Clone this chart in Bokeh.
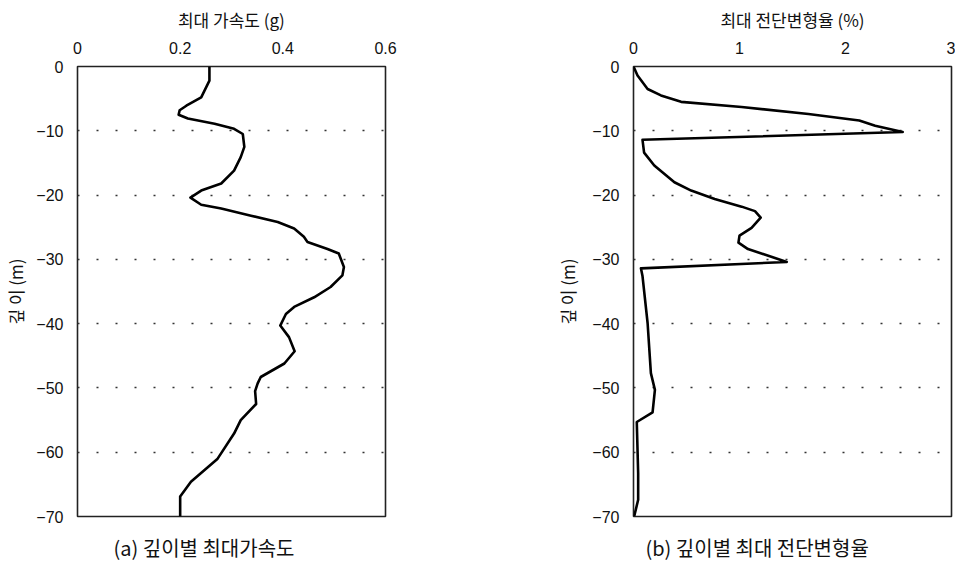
from bokeh.plotting import figure
from bokeh.layouts import row
from bokeh.models import Range1d, FixedTicker, CustomJSTickFormatter, Title
from bokeh.embed import file_html
from bokeh.resources import INLINE

# ---- data ----
acc_depth = [0, -2.2, -4.8, -6.1, -6.8, -7.5, -8.1, -8.9, -9.7, -10.5, -12.5, -14.1, -16.2,
             -18.2, -19.3, -20.4, -21.5, -22.1, -23.2, -24.2, -25.2, -26.5, -27.3, -28.4,
             -29.1, -31.2, -32.5, -34.3, -35.9, -37.4, -38.5, -40.3, -42.1, -44.3, -46.2,
             -48.3, -49.3, -50.5, -52.5, -55.0, -57.1, -61.0, -64.6, -66.9, -70]
acc_val = [0.257, 0.257, 0.241, 0.212, 0.199, 0.197, 0.215, 0.267, 0.305, 0.322, 0.325, 0.318,
           0.305, 0.280, 0.241, 0.220, 0.241, 0.280, 0.338, 0.390, 0.422, 0.441, 0.448, 0.487,
           0.509, 0.519, 0.516, 0.493, 0.461, 0.422, 0.406, 0.395, 0.412, 0.423, 0.403, 0.357,
           0.351, 0.346, 0.348, 0.318, 0.305, 0.273, 0.221, 0.200, 0.200]

strain_depth = [0, -1.4, -3.5, -4.5, -5.5, -6.3, -7.4, -8.4, -9.2, -10.2, -11.4, -13.4, -15.4,
                -18.0, -19.3, -20.6, -21.8, -22.5, -23.5, -25.1, -26.3, -27.4, -28.4, -29.6,
                -30.4, -31.4, -32.6, -39.9, -47.7, -50.3, -53.8, -55.3, -63.3, -67.4, -70]
strain_val = [0, 0.038, 0.133, 0.259, 0.449, 1.02, 1.65, 2.13, 2.28, 2.54, 0.085, 0.10, 0.196,
              0.386, 0.544, 0.766, 1.02, 1.146, 1.20, 1.114, 1.00, 0.99, 1.08, 1.30,
              1.446, 0.07, 0.085, 0.133, 0.164, 0.202, 0.18, 0.031, 0.044, 0.044, 0.006]

y_ticks = [0, -10, -20, -30, -40, -50, -60, -70]
grid_ticks = [-10, -20, -30, -40, -50, -60]
acc_ticks = [0, 0.2, 0.4, 0.6]
strain_ticks = [0, 1, 2, 3]

acc_xlabel = "최대 가속도 (g)"
strain_xlabel = "최대 전단변형율 (%)"
ylabel = "깊 이 (m)"
cap_a = "(a) 깊이별 최대가속도"
cap_b = "(b) 깊이별 최대 전단변형율"

KFONT = "Noto Sans CJK KR"
NFONT = "Liberation Sans"

fmt_code = "return tick < 0 ? '\\u2212' + Math.abs(tick) : String(tick);"


def make(xs, ys, xmax, xticks, xlabel, caption, cap_offset,
         width, bl, br, ylab_standoff):
    p = figure(width=width, height=576, x_range=Range1d(0, xmax), y_range=Range1d(-70, 0),
               x_axis_location="above", output_backend="svg", toolbar_location=None,
               min_border_left=bl, min_border_right=br, min_border_top=66,
               min_border_bottom=60)
    p.outline_line_color = "#222222"
    p.outline_line_width = 1.6
    p.outline_line_alpha = 1.0

    p.xaxis.ticker = FixedTicker(ticks=xticks)
    p.yaxis.ticker = FixedTicker(ticks=y_ticks)
    for ax in (p.xaxis[0], p.yaxis[0]):
        ax.formatter = CustomJSTickFormatter(code=fmt_code)
        ax.axis_line_color = None
        ax.major_tick_line_color = None
        ax.minor_tick_line_color = None
        ax.major_tick_in = 0
        ax.major_tick_out = 0
        ax.minor_tick_in = 0
        ax.minor_tick_out = 0
        ax.major_label_text_font = NFONT
        ax.major_label_text_font_size = "16px"
        ax.major_label_text_color = "#111111"
        ax.axis_label_text_font = KFONT
        ax.axis_label_text_font_style = "normal"
        ax.axis_label_text_font_size = "17px"
        ax.axis_label_text_color = "#111111"
    p.xaxis.axis_label = xlabel
    p.yaxis.axis_label = ylabel
    p.xaxis.major_label_standoff = 13
    p.yaxis.major_label_standoff = 14
    p.xaxis.axis_label_standoff = 7
    p.yaxis.axis_label_standoff = ylab_standoff

    p.xgrid.visible = False
    p.ygrid.ticker = FixedTicker(ticks=grid_ticks)
    p.ygrid.grid_line_color = "#333333"
    p.ygrid.grid_line_dash = "2 17"
    p.ygrid.grid_line_width = 1.3

    p.line(xs, ys, line_color="black", line_width=2.6, line_join="round")

    p.add_layout(Title(text=caption, align="left", offset=cap_offset, standoff=29,
                       text_font=KFONT, text_font_style="normal", text_font_size="20px",
                       text_color="#111111"), "below")
    return p


p1 = make(acc_val, acc_depth, 0.6, acc_ticks, acc_xlabel, cap_a, 36,
          528, 77, 143, 5)
p2 = make(strain_val, strain_depth, 3, strain_ticks, strain_xlabel, cap_b, 12,
          427, 105, 4, 9)

layout = row(p1, p2)
open("out.html", "w").write(file_html(layout, INLINE))
